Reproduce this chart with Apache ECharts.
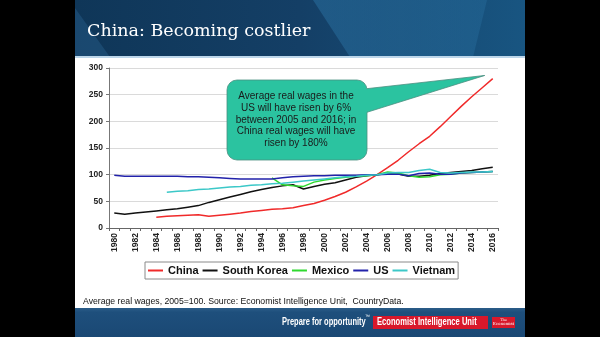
<!DOCTYPE html>
<html>
<head>
<meta charset="utf-8">
<script src="https://cdn.jsdelivr.net/npm/echarts@6/dist/echarts.min.js"></script>
<style>
  html, body { margin: 0; padding: 0; background: #000; }
  #chart { width: 600px; height: 337px; }
</style>
</head>
<body>
<div id="chart"></div>
<script>
// Average real wages, index 2005 = 100
const years = ['1980','1981','1982','1983','1984','1985','1986','1987','1988','1989',
               '1990','1991','1992','1993','1994','1995','1996','1997','1998','1999',
               '2000','2001','2002','2003','2004','2005','2006','2007','2008','2009',
               '2010','2011','2012','2013','2014','2015','2016'];

const china = [null, null, null, null, 20, 22, 23, 24, 25, 22,
               24, 26, 28, 31, 33, 35, 36, 38, 42, 46,
               52, 59, 67, 77, 88, 100, 113, 127, 143, 158,
               172, 190, 209, 228, 246, 263, 280];

const southKorea = [28, 26, 28, 30, 32, 34, 36, 39, 42, 48,
                    53, 58, 63, 68, 72, 76, 79, 81, 73, 78,
                    82, 85, 90, 95, 98, 100, 102, 101, 97, 97,
                    99, 102, 104, 106, 108, 111, 114];

const mexico = [null, null, null, null, null, null, null, null, null, null,
                null, null, null, null, null, 94, 81, 79, 78, 86,
                90, 93, 95, 97, 98, 100, 105, 103, 98, 95,
                96, 100, 101, 103, 104, 105, 106];

const us = [99, 97, 97, 97, 97, 97, 97, 96, 96, 95,
            94, 93, 92, 92, 92, 92, 94, 96, 97, 98,
            98, 99, 99, 99, 100, 100, 101, 101, 98, 102,
            103, 101, 101, 103, 104, 105, 106];

const vietnam = [null, null, null, null, null, 67, 69, 70, 72, 73,
                 75, 77, 78, 80, 81, 83, 84, 86, 88, 90,
                 92, 94, 96, 97, 99, 100, 103, 104, 104, 108,
                 110, 104, 103, 104, 105, 105, 106];

const yTicks = { min: 0, max: 300, step: 50 };

const slideTitle = 'China: Becoming costlier';
const sourceNote = 'Average real wages, 2005=100. Source: Economist Intelligence Unit,  CountryData.';
const calloutText = 'Average real wages in the\nUS will have risen by 6%\nbetween 2005 and 2016; in\nChina real wages will have\nrisen by 180%';

const seriesDefs = [
  { name: 'China',       data: china,      color: '#f02a2a' },
  { name: 'South Korea', data: southKorea, color: '#111111' },
  { name: 'Mexico',      data: mexico,     color: '#2fd92f' },
  { name: 'US',          data: us,         color: '#2222aa' },
  { name: 'Vietnam',     data: vietnam,    color: '#3cc8c8' }
];

const chart = echarts.init(document.getElementById('chart'), null, { renderer: 'canvas' });

const sans = 'Liberation Sans, Arial, sans-serif';

const option = {
  animation: false,
  backgroundColor: '#000',
  grid: { left: 109, right: 102, top: 68, bottom: 109, containLabel: false },
  xAxis: {
    type: 'category',
    data: years,
    boundaryGap: true,
    axisLine: { lineStyle: { color: '#666', width: 1 } },
    axisTick: { show: true, interval: 0, length: 3, lineStyle: { color: '#666' } },
    axisLabel: {
      interval: 1, rotate: 90, margin: 5,
      fontSize: 8.5, fontWeight: 'bold', color: '#222', fontFamily: sans
    },
    splitLine: { show: false }
  },
  yAxis: {
    type: 'value',
    min: yTicks.min, max: yTicks.max, interval: yTicks.step,
    axisLine: { show: true, lineStyle: { color: '#777', width: 1 } },
    axisTick: { show: true, length: 3, lineStyle: { color: '#777' } },
    axisLabel: { margin: 6, fontSize: 8.5, fontWeight: 'bold', color: '#222', fontFamily: sans },
    splitLine: { show: true, lineStyle: { color: '#dadada', width: 1 } }
  },
  legend: {
    left: 145, top: 262,
    padding: [3, 3],
    itemGap: 4,
    icon: 'rect',
    itemWidth: 15, itemHeight: 2,
    backgroundColor: '#fff',
    borderColor: '#8a8a8a', borderWidth: 1,
    textStyle: { fontSize: 11, fontWeight: 'bold', color: '#111', fontFamily: sans },
    data: seriesDefs.map(s => s.name)
  },
  series: seriesDefs.map(s => ({
    name: s.name,
    type: 'line',
    data: s.data,
    symbol: 'none',
    connectNulls: false,
    color: s.color,
    itemStyle: { color: s.color },
    lineStyle: { color: s.color, width: 1.5 },
    z: 3
  })),
  graphic: []
};

chart.setOption(option);

// Slide frame, header band, footer band and the callout box
const tip = chart.convertToPixel({ gridIndex: 0 }, ['2016', 286]);
const tipX = tip[0] - 8, tipY = tip[1];

const box = { x: 227, y: 80, w: 140, h: 80, r: 10 };
const edgeX = box.x + box.w;
const slope1 = (tipY - 90) / (tipX - (edgeX - 12));
const slope2 = (tipY - 116) / (tipX - (edgeX - 12));
const upperStart = [edgeX, 90 + slope1 * 12];
const lowerStart = [edgeX, 116 + slope2 * 12];

const graphics = [
  // white slide
  { type: 'rect', z: -10, silent: true, shape: { x: 75, y: 0, width: 450, height: 337 }, style: { fill: '#ffffff' } },
  // header band
  { type: 'rect', z: -9, silent: true, shape: { x: 75, y: 0, width: 450, height: 57 },
    style: { fill: new echarts.graphic.LinearGradient(0, 0, 1, 0, [
      { offset: 0, color: '#0f3658' }, { offset: 0.5, color: '#143f66' }, { offset: 1, color: '#185581' }
    ]) } },
  { type: 'polygon', z: -9, silent: true, shape: { points: [[75, 8], [110, 57], [75, 57]] },
    style: { fill: 'rgba(40,95,140,0.45)' } },
  { type: 'polygon', z: -9, silent: true, shape: { points: [[313, 0], [487, 0], [473, 57], [350, 57]] },
    style: { fill: new echarts.graphic.LinearGradient(0, 0, 1, 0, [
      { offset: 0, color: 'rgba(45,120,170,0.45)' }, { offset: 1, color: 'rgba(45,120,170,0.3)' }
    ]) } },
  { type: 'rect', z: -8, silent: true, shape: { x: 75, y: 56, width: 450, height: 2 }, style: { fill: '#bcd6ea' } },
  { type: 'text', z: 5, silent: true, x: 87, y: 31,
    style: { text: slideTitle, fill: '#ffffff', fontSize: 17.5, fontFamily: 'DejaVu Serif, serif', verticalAlign: 'middle' } },
  // source line
  { type: 'text', z: 5, silent: true, x: 83, y: 302,
    style: { text: sourceNote, fill: '#111', fontSize: 8.7, fontFamily: sans, verticalAlign: 'middle' } },
  // footer band
  { type: 'rect', z: -9, silent: true, shape: { x: 75, y: 308, width: 450, height: 29 },
    style: { fill: new echarts.graphic.LinearGradient(0, 0, 0, 1, [
      { offset: 0, color: '#2a5c88' }, { offset: 0.15, color: '#1e4f7c' }, { offset: 1, color: '#1a4874' }
    ]) } },
  { type: 'text', z: 5, silent: true, x: 282, y: 322, scaleX: 0.75,
    style: { text: 'Prepare for opportunity', fill: '#fff', fontSize: 10, fontWeight: 'bold', fontFamily: sans, verticalAlign: 'middle' } },
  { type: 'text', z: 5, silent: true, x: 365, y: 317,
    style: { text: '™', fill: '#fff', fontSize: 5, fontFamily: sans, verticalAlign: 'middle' } },
  { type: 'rect', z: 4, silent: true, shape: { x: 373, y: 316, width: 115, height: 13 }, style: { fill: '#d8182b' } },
  { type: 'text', z: 5, silent: true, x: 377, y: 322.5, scaleX: 0.76,
    style: { text: 'Economist Intelligence Unit', fill: '#fff', fontSize: 10, fontWeight: 'bold', fontFamily: sans, verticalAlign: 'middle' } },
  { type: 'rect', z: 4, silent: true, shape: { x: 492, y: 317, width: 23, height: 11 }, style: { fill: '#d8182b' } },
  { type: 'text', z: 5, silent: true, x: 503.5, y: 320,
    style: { text: 'The', fill: '#fff', fontSize: 3.5, fontFamily: 'DejaVu Serif, serif', align: 'center', verticalAlign: 'middle' } },
  { type: 'text', z: 5, silent: true, x: 503.5, y: 324,
    style: { text: 'Economist', fill: '#fff', fontSize: 4, fontFamily: 'DejaVu Serif, serif', align: 'center', verticalAlign: 'middle' } },
  // callout
  { type: 'rect', z: 10, silent: true, shape: { x: box.x, y: box.y, width: box.w, height: box.h, r: box.r },
    style: { fill: '#2bc3a0', stroke: '#4a8f80', lineWidth: 0.8 } },
  { type: 'polygon', z: 11, silent: true, shape: { points: [[edgeX - 12, 90], [tipX, tipY], [edgeX - 12, 116]] },
    style: { fill: '#2bc3a0' } },
  { type: 'polyline', z: 11, silent: true, shape: { points: [upperStart, [tipX, tipY], lowerStart] },
    style: { stroke: '#4a8f80', lineWidth: 0.8, fill: null } },
  { type: 'text', z: 12, silent: true, x: box.x + box.w / 2 - 1, y: box.y + box.h / 2,
    style: { text: calloutText, fill: '#1a1a1a', fontSize: 10, lineHeight: 11.7, fontFamily: sans,
             align: 'center', verticalAlign: 'middle' } }
];

chart.setOption({ graphic: graphics });
</script>
</body>
</html>
